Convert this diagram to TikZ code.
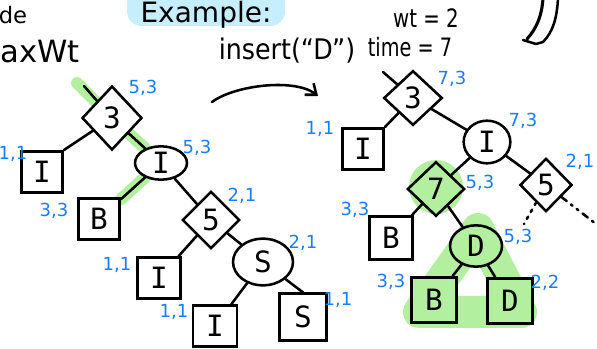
\documentclass[tikz,border=0pt]{standalone}
\usepackage{fontspec}
\usetikzlibrary{shapes.geometric,arrows.meta,backgrounds}
\setmainfont{DejaVu Sans}
\newfontfamily\letterfont{DejaVu Sans Mono}
\definecolor{hlgreen}{RGB}{178,240,160}
\definecolor{tagblue}{RGB}{25,125,245}
\definecolor{hlcyan}{RGB}{198,238,252}

\begin{document}
\begin{tikzpicture}[x=0.75pt,y=-0.75pt,
  every node/.style={inner sep=0pt},
  edge/.style={line width=1.9pt, line cap=round},
  keyfont/.style={font=\letterfont\fontsize{22}{22}\selectfont},
  sq/.style={draw, line width=1.9pt, fill=white, minimum size=31pt, keyfont},
  dia/.style={diamond, draw, line width=1.9pt, fill=white, minimum width=43pt, minimum height=43pt, keyfont},
  ell/.style={ellipse, draw, line width=1.9pt, fill=white, keyfont},
  tag/.style={text=tagblue, font=\fontsize{13.5}{13.5}\selectfont},
  hl/.style={draw=hlgreen, line width=9pt, line cap=round}
]
\useasboundingbox (0,0) rectangle (597,349);

% headings
\fill[hlcyan, rounded corners=11pt] (127,-30) rectangle (285,26);
\node[font=\fontsize{21}{21}\selectfont] (ex) at (206,15) {Example:};
\node[font=\fontsize{17}{17}\selectfont] (de) at (13,15) {de};
\node[anchor=west, font=\fontsize{23}{23}\selectfont] (maxwt) at (0,52) {axWt};
\node[font=\fontsize{19}{19}\selectfont] (ins) at (287,51) {\scalebox{1}[1.12]{insert(“D”)}};
\node[font=\fontsize{19}{19}\selectfont] (time) at (410,47) {\scalebox{0.76}[1]{time = 7}};
\node[font=\fontsize{19}{19}\selectfont] (wt) at (426,18) {\scalebox{0.78}[1]{wt = 2}};

% left tree
\node[dia, minimum width=45pt, minimum height=48pt] (l3) at (112,118) {3};
\node[sq] (lI1) at (42,172) {I};
\node[ell, minimum width=39pt, minimum height=25pt] (lI2) at (161,163) {I};
\node[sq] (lB) at (99,219) {B};
\node[dia] (l5) at (211,220) {5};
\node[sq, minimum width=32pt] (lI3) at (159,278) {I};
\node[ell, minimum width=45pt, minimum height=35pt] (lS) at (263,262) {S};
\node[sq, minimum width=33pt] (lI4) at (215,326) {I};
\node[sq, minimum size=35pt] (lS2) at (303,317) {S};
\coordinate (lroot) at (84,86);
\coordinate (lglow) at (77,83);

\draw[edge] (lroot) -- (l3);
\draw[edge] (l3) -- (lI1.north east);
\draw[edge] (l3) -- (lI2);
\draw[edge] (lI2) -- (lB);
\draw[edge] (lI2) -- (l5);
\draw[edge] (l5) -- (lI3);
\draw[edge] (l5) -- (lS);
\draw[edge] (lS) -- (lI4);
\draw[edge] (lS) -- (lS2.north);

\node[tag] (t1) at (143,88) {5,3};
\node[tag] (t2) at (13,154) {1,1};
\node[tag] (t3) at (197,148) {5,3};
\node[tag] (t4) at (54,211) {3,3};
\node[tag] (t5) at (242,196) {2,1};
\node[tag] (t6) at (117,265) {1,1};
\node[tag] (t7) at (303,243) {2,1};
\node[tag] (t8) at (174,312) {1,1};
\node[tag] (t9) at (338,300) {1,1};

% right tree
\node[dia, minimum width=44pt, minimum height=41pt] (r3) at (413,98) {3};
\node[sq] (rI1) at (363,149) {I};
\node[ell, minimum width=35pt, minimum height=32pt] (rI2) at (487,142) {I};
\node[dia, fill=hlgreen, minimum height=41pt] (r7) at (436,189) {7};
\node[dia, minimum width=39pt, minimum height=40pt] (r5) at (546,185) {5};
\node[sq, minimum size=32pt] (rB1) at (391,238) {B};
\node[ell, fill=hlgreen, minimum width=39pt, minimum height=31pt] (rD) at (476,246) {D};
\node[sq, fill=hlgreen, minimum size=34pt] (rB2) at (434,300) {B};
\node[sq, fill=hlgreen, minimum size=34pt] (rD2) at (510,301) {D};
\coordinate (rroot) at (383,72);
\coordinate (dl) at (524,224);
\coordinate (dr) at (596,224);

\draw[edge] (rroot) -- (r3);
\draw[edge] (r3) -- (rI1.north east);
\draw[edge] (r3) -- (rI2);
\draw[edge] (rI2) -- (r7);
\draw[edge] (rI2) -- (r5);
\draw[edge] (r7) -- (rB1);
\draw[edge] (r7) -- (rD);
\draw[edge] (rD) -- (rB2);
\draw[edge] (rD) -- (rD2);
\draw[edge, dash pattern=on 2pt off 4pt] (r5) -- (dl);
\draw[edge, dash pattern=on 5pt off 4pt on 1.5pt off 4pt on 1.5pt off 4pt] (r5) -- (dr);

\node[tag] (u1) at (452,79) {7,3};
\node[tag] (u2) at (320,129) {1,1};
\node[tag] (u3) at (523,121) {7,3};
\node[tag] (u4) at (480,183) {5,3};
\node[tag] (u5) at (580,162) {2,1};
\node[tag] (u6) at (355,210) {3,3};
\node[tag] (u7) at (518,237) {5,3};
\node[tag] (u8) at (391,282) {3,3};
\node[tag] (u9) at (545,283) {2,2};

% arrows
\coordinate (arrA) at (212,102);
\coordinate (arrB) at (318,96);
\draw[edge, -{Straight Barb[length=7pt,width=11pt]}] (arrA) .. controls (235,85) and (295,78) .. (arrB);

\coordinate (bigL0) at (543,-2);
\coordinate (bigL1) at (527,39);
\coordinate (bigR0) at (558,-2);
\coordinate (bigR1) at (543,42);
\coordinate (bigH) at (523,40);
\draw[edge, line width=2.3pt] (bigL0) .. controls (542,15) and (537,28) .. (bigL1);
\draw[edge] (bigR0) .. controls (557,18) and (553,32) .. (bigR1);
\draw[edge, line join=round] (bigH) -- (536,44) -- (bigR1);

% marker highlights behind the trees
\begin{pgfonlayer}{background}
  \draw[hl] (lglow) -- (l3);
  \draw[hl] (l3) -- (lI2);
  \draw[hl] (lI2) -- (lB);
  \fill[hlgreen] (436,187) circle (27);
  \draw[draw=hlgreen, line width=24pt, line join=round] (478,229) -- (419,312) -- (521,312) -- cycle;
\end{pgfonlayer}
\end{tikzpicture}
\end{document}
